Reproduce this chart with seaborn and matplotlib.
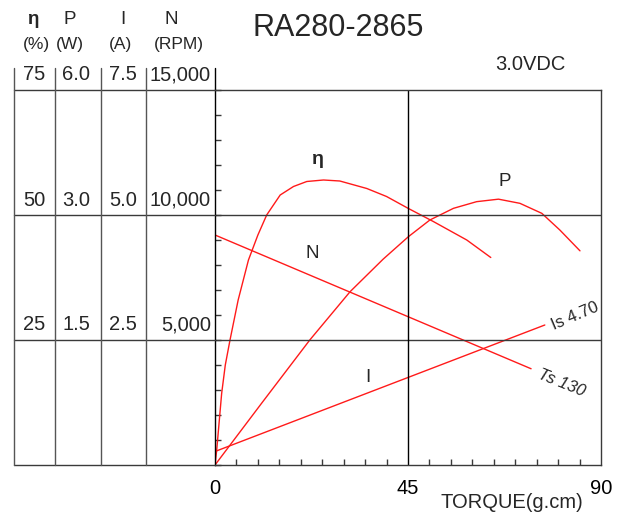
import numpy as np
import seaborn as sns
from matplotlib import pyplot as plt
from matplotlib.ticker import MultipleLocator, NullLocator, FixedLocator

# values
title = "RA280-2865"
voltage = "3.0VDC"

# efficiency curve (torque g.cm, %)
eta_torque = [0, 0.4, 1.55, 2.4, 3.5, 5.4, 7.8, 10, 12.05, 15.2, 18.3, 21.4, 25.3, 29.1, 35.4, 40, 45.1, 50.9, 58.7, 64.3]
eta_pct = [0, 3, 14.3, 20, 25, 33, 41, 46, 50, 54, 55.7, 56.7, 57, 56.8, 55.3, 53.7, 51.3, 48.7, 45, 41.5]

# output power curve (torque g.cm, W)
p_torque = [0, 11, 22.1, 31.5, 39.2, 45.1, 50.1, 55.6, 61.0, 66.1, 71.1, 76.2, 80.4, 85.1]
p_watt = [0, 0.75, 1.5, 2.08, 2.47, 2.74, 2.94, 3.08, 3.16, 3.19, 3.14, 3.02, 2.82, 2.57]

# speed line (torque g.cm, rpm)
n_torque = [0, 73.7]
n_rpm = [9200, 3850]

# current line (torque g.cm, A)
i_torque = [0, 76.9]
i_amp = [0.27, 2.8]

# left table scales: rows at 5000 / 10000 / 15000 rpm
row_rpm = [5000, 10000, 15000]
eta_ticks = ["25", "50", "75"]
p_ticks = ["1.5", "3.0", "6.0"]
i_ticks = ["2.5", "5.0", "7.5"]
n_ticks = ["5,000", "10,000", "15,000"]
headers = ["η", "P", "I", "N"]
units = ["(%)", "(W)", "(A)", "(RPM)"]
x_ticks = [0, 45, 90]

# unit -> rpm axis factors
ETA_K = 15000 / 75
P_K = 10000 / 3.0
I_K = 15000 / 7.5

sns.set_style("white")
plt.rcParams["font.family"] = ["Liberation Sans", "DejaVu Sans"]

W, H = 621, 514
fig = plt.figure(figsize=(W / 100, H / 100), dpi=100)


def fx(x):
    return x / W


def fy(y):
    return 1 - y / H


ax = fig.add_axes([fx(215), fy(465), (601 - 215) / W, (465 - 90) / H])
tax = fig.add_axes([fx(14), fy(465), (215 - 14) / W, (465 - 90) / H])

red = "#ff1a1a"
grid_c = "#3a3a3a"
ytop = 15000 * (465 - 68) / 375  # spine runs up above the plot frame

sns.lineplot(x=eta_torque, y=np.array(eta_pct) * ETA_K, ax=ax, color=red, lw=1, estimator=None, sort=False)
sns.lineplot(x=p_torque, y=np.array(p_watt) * P_K, ax=ax, color=red, lw=1, estimator=None, sort=False)
sns.lineplot(x=n_torque, y=n_rpm, ax=ax, color=red, lw=1, estimator=None, sort=False)
sns.lineplot(x=i_torque, y=np.array(i_amp) * I_K, ax=ax, color=red, lw=1, estimator=None, sort=False)

ax.set_xlim(0, 90)
ax.set_ylim(0, 15000)
ax.set_xlabel("")
ax.set_ylabel("")
for r in row_rpm[:2]:
    ax.axhline(r, color=grid_c, lw=1)
ax.axvline(45, color="black", lw=1)
for s in ax.spines.values():
    s.set_color(grid_c)
    s.set_linewidth(1)
ax.spines["left"].set_color("black")
ax.plot([0, 0], [15000, ytop], color="black", lw=1, clip_on=False)

ax.xaxis.set_major_locator(FixedLocator(x_ticks))
ax.xaxis.set_minor_locator(MultipleLocator(5))
ax.yaxis.set_major_locator(NullLocator())
ax.yaxis.set_minor_locator(MultipleLocator(1000))
ax.tick_params(axis="x", which="major", length=0, pad=10, labelsize=14.5, labelcolor="black")
ax.tick_params(axis="x", which="minor", direction="in", length=4, width=1, color=grid_c, bottom=True)
ax.tick_params(axis="y", which="minor", direction="in", length=4, width=1, color=grid_c, left=True)

# curve labels
ax.text(24, 12200, "η", fontsize=14, fontweight="bold", ha="center", va="center")
ax.text(67.6, 11320, "P", fontsize=13.5, ha="center", va="center")
ax.text(22.6, 8440, "N", fontsize=13.5, ha="center", va="center")
ax.text(35.7, 3480, "I", fontsize=13.5, ha="center", va="center")
ax.text(84.0, 5960, "Is 4.70", fontsize=12, rotation=23, ha="center", va="center", clip_on=False)
ax.text(80.7, 3280, "Ts 130", fontsize=12, style="italic", rotation=-22, ha="center", va="center", clip_on=False)

# left scale table
tax.set_xlim(14, 215)
tax.set_ylim(0, 15000)
tax.axis("off")
for r in [0] + row_rpm:
    tax.plot([14, 215], [r, r], color=grid_c, lw=1, clip_on=False)
for cx in [14, 55, 100.5, 145.5]:
    tax.plot([cx, cx], [0, ytop], color="#555555", lw=1, clip_on=False)
col_right = [45, 90, 137, 211]
for k, r in enumerate(row_rpm):
    for cx, lab in zip(col_right, [eta_ticks[k], p_ticks[k], i_ticks[k], n_ticks[k]]):
        tax.text(cx, r + 380, lab, fontsize=14.5, ha="right", va="baseline")

# header above the table
for hx, lab in zip([33, 70, 123, 171], headers):
    fig.text(fx(hx), fy(20), lab, fontsize=13.5, ha="center", va="center",
             fontweight="bold" if lab == "η" else "normal")
for hx, lab in zip([36.5, 69.5, 121, 178.5], units):
    fig.text(fx(hx), fy(44), lab, fontsize=12.5, ha="center", va="center")

fig.text(fx(338), fy(28), title, fontsize=22, ha="center", va="center")
fig.text(fx(530), fy(64), voltage, fontsize=14.5, ha="center", va="center")
fig.text(fx(512), fy(503), "TORQUE(g.cm)", fontsize=14.5, ha="center", va="center")

fig.savefig("out.png", dpi=100)
